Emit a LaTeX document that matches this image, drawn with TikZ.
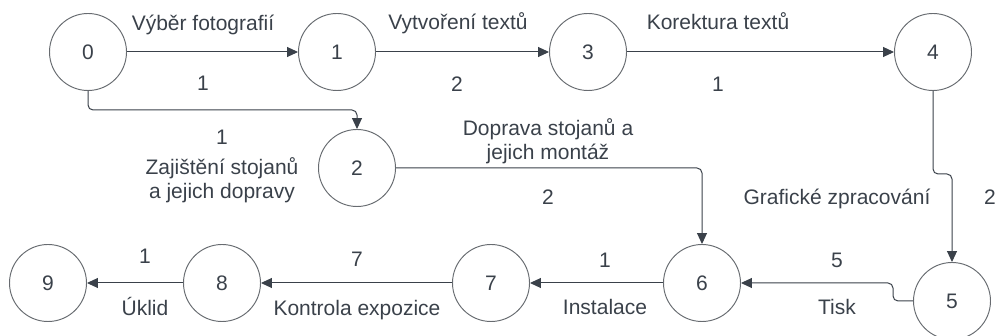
\documentclass[tikz,border=0pt]{standalone}
\usepackage{fontspec}
\setmainfont{Liberation Sans}
\usetikzlibrary{arrows.meta}
\definecolor{ink}{HTML}{3A414A}
\definecolor{ring}{HTML}{676B70}
\begin{document}
\begin{tikzpicture}[x=1pt,y=-1pt,
  state/.style={circle,draw=ring,line width=0.95pt,minimum size=77pt,inner sep=0pt,
    text=ink,font=\fontsize{21}{24}\selectfont},
  edge/.style={draw=ink,line width=1pt,rounded corners=5pt,
    -{Triangle[length=11pt,width=10pt]}},
  lbl/.style={anchor=base,text=ink,font=\fontsize{21}{24}\selectfont,inner sep=0pt},
  mlbl/.style={anchor=center,text=ink,font=\fontsize{21}{24}\selectfont,inner sep=0pt,align=center}]
\useasboundingbox (0,0) rectangle (996,336);

% activities network: events
\node[state] (n0) at (88,52) {0};
\node[state] (n1) at (337,52) {1};
\node[state] (n3) at (588,52) {3};
\node[state] (n4) at (933,52) {4};
\node[state] (n2) at (357,168) {2};
\node[state] (n6) at (702,283) {6};
\node[state] (n5) at (952,301) {5};
\node[state] (n7) at (491,283) {7};
\node[state] (n8) at (222,283) {8};
\node[state] (n9) at (48,283) {9};

% bend points of the routed connectors
\coordinate (b02) at (357,110);
\coordinate (j4a) at (933,174);
\coordinate (j4b) at (952,174);
\coordinate (j5a) at (893,301);
\coordinate (j5b) at (893,283);

% activities
\draw[edge] (n0) -- (n1);
\draw[edge] (n1) -- (n3);
\draw[edge] (n3) -- (n4);
\draw[edge] (n0.south) |- (b02) -- (n2.north);
\draw[edge] (n2.east) -| (n6.north);
\draw[edge] (n4.south) -- (j4a) -- (j4b) -- (n5.north);
\draw[edge] (n5.west) -- (j5a) -- (j5b) -- (n6.east);
\draw[edge] (n6) -- (n7);
\draw[edge] (n7) -- (n8);
\draw[edge] (n8) -- (n9);

% activity names and durations
\node[lbl] (t01) at (203,31) {Výběr fotografií};
\node[lbl] (d01) at (203,91) {1};
\node[lbl] (t13) at (458,30) {Vytvoření textů};
\node[lbl] (d13) at (457,92) {2};
\node[lbl] (t34) at (718,30) {Korektura textů};
\node[lbl] (d34) at (718,92) {1};
\node[lbl] (d02) at (222,145) {1};
\node[mlbl] (t02) at (222,180) {Zajištění stojanů\\a jejich dopravy};
\node[mlbl] (t26) at (548,141) {Doprava stojanů a\\jejich montáž};
\node[lbl] (d26) at (548,205) {2};
\node[lbl] (t45) at (837,205) {Grafické zpracování};
\node[lbl] (d45) at (990,205) {2};
\node[lbl] (d56) at (837,268) {5};
\node[lbl] (t56) at (837,315) {Tisk};
\node[lbl] (d67) at (605,268) {1};
\node[lbl] (t67) at (605,315) {Instalace};
\node[lbl] (d78) at (357,267) {7};
\node[lbl] (t78) at (357,316) {Kontrola expozice};
\node[lbl] (d89) at (145,264) {1};
\node[lbl] (t89) at (145,316) {Úklid};
\end{tikzpicture}
\end{document}
